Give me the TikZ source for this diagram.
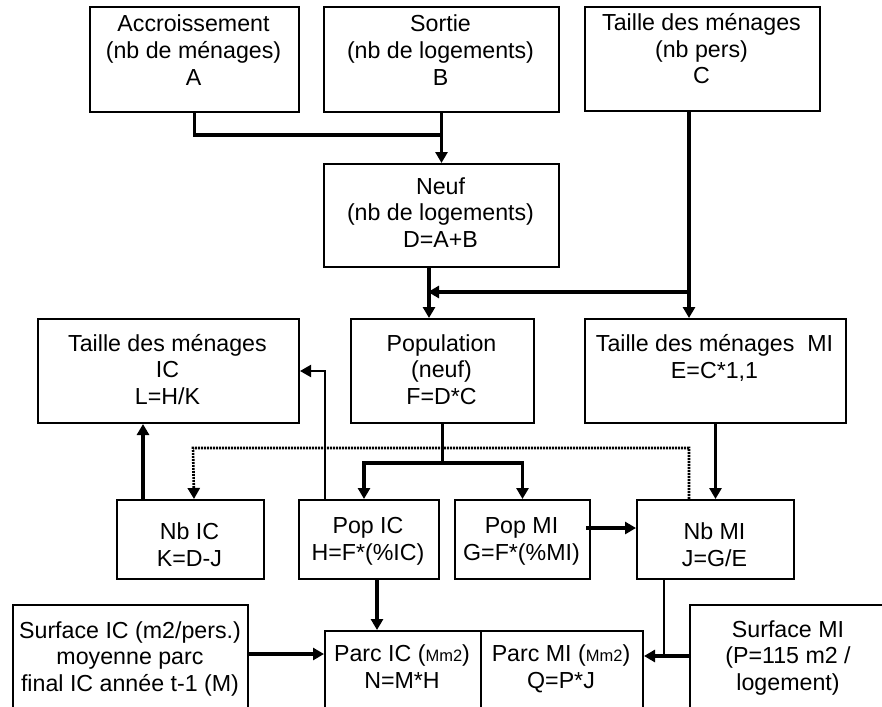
\documentclass[tikz,border=0pt]{standalone}
\usepackage{fontspec}
\setmainfont{Liberation Sans}
\usetikzlibrary{arrows.meta}
\begin{document}
\begin{tikzpicture}[x=1pt,y=-1pt,
  box/.style={draw,line width=2pt,inner sep=0pt,anchor=north west},
  txt/.style={align=center,font=\fontsize{23.2}{26.5}\selectfont,inner sep=0pt,anchor=base},
  small/.style={font=\fontsize{16.5}{18}\selectfont},
  conn/.style={line width=3.2pt},
  thinc/.style={line width=2pt},
  arr/.style={-{Triangle[length=11pt,width=12pt]}},
  dots/.style={line width=2.6pt,dash pattern=on 1.8pt off 1.2pt}]
\useasboundingbox (0,0) rectangle (882,706);
% boxes
\node[box,minimum width=209pt,minimum height=105pt] (A) at (89,6) {};
\node[box,minimum width=235pt,minimum height=105pt] (B) at (323,6) {};
\node[box,minimum width=235pt,minimum height=104pt] (C) at (584,6) {};
\node[box,minimum width=235pt,minimum height=103pt] (D) at (323,163) {};
\node[box,minimum width=261pt,minimum height=104pt] (L) at (37,318) {};
\node[box,minimum width=183pt,minimum height=104pt] (F) at (350,318) {};
\node[box,minimum width=261pt,minimum height=104pt] (E) at (584,318) {};
\node[box,minimum width=147pt,minimum height=79pt] (K) at (116,499) {};
\node[box,minimum width=140pt,minimum height=79pt] (H) at (298,499) {};
\node[box,minimum width=135pt,minimum height=79pt] (G) at (454,499) {};
\node[box,minimum width=157pt,minimum height=79pt] (J) at (636,499) {};
\node[box,minimum width=235pt,minimum height=140pt] (M) at (12,604) {};
\node[box,minimum width=156pt,minimum height=120pt] (N) at (324,630) {};
\node[box,minimum width=162pt,minimum height=120pt] (Q) at (480,630) {};
\node[box,minimum width=220pt,minimum height=140pt] (P) at (689,604) {};
% texts (anchored at the baseline of their last line)
\node[txt] (tA) at (193.5,85) {Accroissement\\(nb de ménages)\\A};
\node[txt] (tB) at (440.5,85) {Sortie\\(nb de logements)\\B};
\node[txt] (tC) at (701.5,84) {Taille des ménages\\(nb pers)\\C};
\node[txt] (tD) at (440.5,247) {Neuf\\(nb de logements)\\D=A+B};
\node[txt] (tL) at (167.5,404) {Taille des ménages\\IC\\L=H/K};
\node[txt] (tF) at (441.5,404) {Population\\(neuf)\\F=D*C};
\node[txt] (tE) at (714.5,378) {Taille des ménages\ \ MI\\E=C*1,1};
\node[txt] (tK) at (189.5,566) {Nb IC\\K=D-J};
\node[txt] (tH) at (368,560) {Pop IC\\H=F*(\%IC)};
\node[txt] (tG) at (521.5,560) {Pop MI\\G=F*(\%MI)};
\node[txt] (tJ) at (714.5,566) {Nb MI\\J=G/E};
\node[txt] (tM) at (130,691) {Surface IC (m2/pers.)\\moyenne parc\\final IC année t-1 (M)};
\node[txt] (tN) at (402,688) {Parc IC ({\fontsize{16.5}{18}\selectfont Mm2})\\N=M*H};
\node[txt] (tQ) at (561,688) {Parc MI ({\fontsize{16.5}{18}\selectfont Mm2})\\Q=P*J};
\node[txt] (tP) at (788,690) {Surface MI\\(P=115 m2 /\\logement)};
% junction coordinates
\coordinate (jAB) at (441,135);
\coordinate (jC) at (688,292);
\coordinate (dL) at (193,448);
\coordinate (yA) at (0,654);
\coordinate (yB) at (0,656);
% connectors
\draw[conn] (A.south) |- (jAB);
\draw[conn,arr] (B.south) -- (D.north);
\draw[conn,arr] ([xshift=-13.5pt]C.south) -- ([xshift=-26.5pt]E.north);
\draw[conn,arr] (jC) -- (428,292);
\draw[conn,arr] ([xshift=-12.5pt]D.south) -- ([xshift=-13.5pt]F.north);
\draw[conn] (F.south) -- ++(0,39) coordinate (jF);
\draw[conn,arr] (jF) -| ([xshift=-5pt]H.north);
\draw[conn,arr] (jF) -| (G.north);
\draw[dots,arr] ([xshift=-26.5pt]J.north) |- (dL) -- ([xshift=3.5pt]K.north);
\draw[conn,arr] ([xshift=-47.5pt]K.north) -- ([xshift=-25.5pt]L.south);
\draw[thinc,arr] ([xshift=-44pt]H.north) |- (L.east);
\draw[conn,arr] (E.south) -- (J.north);
\draw[conn,arr] ([xshift=-5pt,yshift=11.5pt]G.east) -- ([yshift=11.5pt]J.west);
\draw[conn,arr] ([xshift=8pt]H.south) -- ([xshift=-26pt]N.north);
\draw[conn,arr] (M.east |- yA) -- (N.west |- yA);
\draw[thinc] ([xshift=-51.5pt]J.south) |- (P.west |- yB);
\draw[conn,arr] (P.west |- yB) -- (Q.east |- yB);
\end{tikzpicture}
\end{document}
